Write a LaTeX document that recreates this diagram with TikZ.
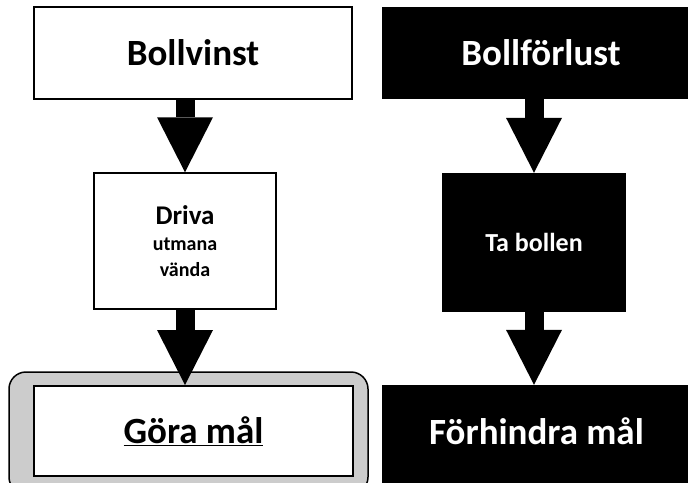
\documentclass[tikz,border=0pt]{standalone}
\usepackage{fontspec}
\setmainfont{Carlito}
\usetikzlibrary{arrows.meta}
\definecolor{framegray}{RGB}{204,204,204}
\begin{document}
\begin{tikzpicture}[x=1pt,y=-1pt,
  wbox/.style={draw=black, line width=2pt, fill=white, inner sep=0pt, font=\bfseries},
  bbox/.style={fill=black, text=white, inner sep=0pt, font=\bfseries},
  bigtext/.style={font=\bfseries\fontsize{37}{44}\selectfont},
  fat/.style={line width=19pt, -{Triangle[width=56pt,length=55pt,line width=0pt]}},
]
\useasboundingbox (0,0) rectangle (688,482);
\clip (0,0) rectangle (688,482);
% left column
\node[wbox, bigtext, minimum width=318, minimum height=92] (bollvinst) at (193,53) {Bollvinst};
\node[wbox, line width=1.5pt, minimum width=182, minimum height=136, align=center,
      font=\bfseries\fontsize{20}{26}\selectfont] (driva) at (185,241)
  {{\fontsize{27}{26}\selectfont Driva}\\utmana\\vända};
\node[draw=black, line width=1.5pt, fill=framegray, rounded corners=17pt, minimum width=359, minimum height=122] (goraframe) at (188.5,433) {};
\node[wbox, bigtext, minimum width=319, minimum height=90] (gora) at (193.5,431) {\underline{Göra mål}};
% right column
\node[bbox, bigtext, minimum width=318, minimum height=92] (bollforlust) at (541,53) {Bollförlust};
\node[bbox, minimum width=184, minimum height=139, font=\bfseries\fontsize{26}{30}\selectfont] (tabollen) at (534,242.5) {Ta bollen};
\node[bbox, bigtext, minimum width=319, minimum height=92] (forhindra) at (541.5,431) {\hspace*{-10pt}Förhindra mål};
\fill[black] (forhindra.south west) rectangle ++(330,20);
% arrows
\draw[fat] (driva.north |- bollvinst.south) -- (driva.north);
\draw[fat] (driva.south) -- (driva.south |- gora.north);
\draw[fat] (tabollen.north |- bollforlust.south) -- (tabollen.north);
\draw[fat] (tabollen.south) -- (tabollen.south |- forhindra.north);
\end{tikzpicture}
\end{document}
